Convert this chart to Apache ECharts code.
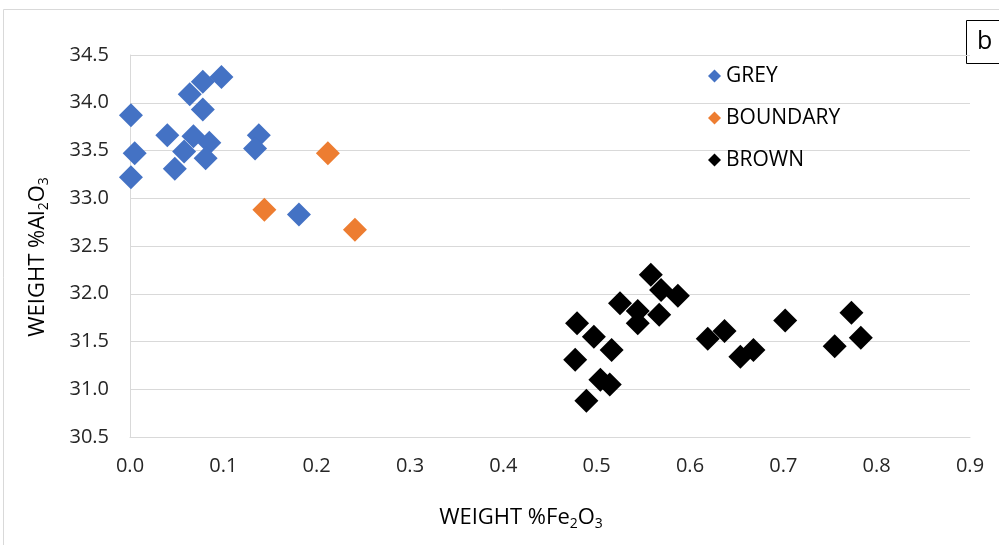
<!DOCTYPE html>
<html>
<head>
<meta charset="utf-8">
<script src="https://cdn.jsdelivr.net/npm/echarts@6/dist/echarts.min.js"></script>
<style>
  html, body { margin: 0; padding: 0; background: #fff; }
  #chart { width: 999px; height: 545px; }
</style>
</head>
<body>
<div id="chart"></div>
<script>
// values
var greyFe = [0.001, 0.005, 0.001, 0.040, 0.048, 0.068, 0.085, 0.058, 0.081, 0.064, 0.078, 0.078, 0.098, 0.138, 0.134, 0.181];
var greyAl = [33.87, 33.47, 33.22, 33.66, 33.31, 33.65, 33.58, 33.49, 33.42, 34.09, 33.93, 34.22, 34.27, 33.66, 33.52, 32.83];

var boundaryFe = [0.212, 0.144, 0.241];
var boundaryAl = [33.47, 32.88, 32.67];

var brownFe = [0.558, 0.569, 0.587, 0.525, 0.544, 0.567, 0.544, 0.479, 0.497, 0.516, 0.477,
               0.504, 0.514, 0.489, 0.619, 0.637, 0.654, 0.668, 0.702, 0.773, 0.755, 0.783];
var brownAl = [32.20, 32.04, 31.98, 31.90, 31.82, 31.78, 31.69, 31.69, 31.55, 31.41, 31.31,
               31.10, 31.05, 30.88, 31.53, 31.61, 31.34, 31.41, 31.72, 31.80, 31.45, 31.54];

var seriesNames = ['GREY', 'BOUNDARY', 'BROWN'];
var seriesColors = ['#4472C4', '#ED7D31', '#000000'];

var xTicks = [0, 0.9, 0.1];     // min, max, step
var yTicks = [30.5, 34.5, 0.5];

function pairs(xs, ys) {
    var out = [];
    for (var i = 0; i < xs.length; i++) {
        out.push([xs[i], ys[i]]);
    }
    return out;
}

var font = 'Open Sans';
var textColor = '#262626';

var subRich = {
    a: { fontFamily: font, fontSize: 22, color: '#1a1a1a' },
    s: { fontFamily: font, fontSize: 14, color: '#1a1a1a', padding: [13, 0, 0, 0] }
};

var chart = echarts.init(document.getElementById('chart'));

var allData = [pairs(greyFe, greyAl), pairs(boundaryFe, boundaryAl), pairs(brownFe, brownAl)];

var option = {
    animation: false,
    backgroundColor: '#fff',
    grid: {
        left: 130,
        right: 29,
        top: 55,
        bottom: 108
    },
    legend: {
        orient: 'vertical',
        left: 703,
        top: 59,
        itemWidth: 13,
        itemHeight: 13,
        itemGap: 18,
        icon: 'diamond',
        data: seriesNames,
        textStyle: {
            fontFamily: font,
            fontSize: 21,
            lineHeight: 24,
            color: '#000'
        }
    },
    xAxis: {
        type: 'value',
        min: xTicks[0],
        max: xTicks[1],
        interval: xTicks[2],
        axisLine: { show: true, lineStyle: { color: '#d9d9d9', width: 1 } },
        axisTick: { show: false },
        splitLine: { show: false },
        axisLabel: {
            margin: 19,
            fontFamily: font,
            fontSize: 20,
            color: textColor,
            formatter: function (v) { return v.toFixed(1); }
        }
    },
    yAxis: {
        type: 'value',
        min: yTicks[0],
        max: yTicks[1],
        interval: yTicks[2],
        axisLine: { show: true, lineStyle: { color: '#d9d9d9', width: 1 } },
        axisTick: { show: false },
        splitLine: { show: true, lineStyle: { color: '#d9d9d9', width: 1 } },
        axisLabel: {
            margin: 21,
            fontFamily: font,
            fontSize: 20,
            color: textColor,
            formatter: function (v) { return v.toFixed(1); }
        }
    },
    graphic: [
        {
            type: 'rect',
            z: -1,
            shape: { x: 3.5, y: 9.5, width: 1100, height: 600 },
            style: { fill: 'none', stroke: '#d9d9d9', lineWidth: 1 }
        },
        {
            type: 'rect',
            shape: { x: 966.5, y: 20.5, width: 60, height: 43 },
            style: { fill: '#fff', stroke: '#000', lineWidth: 1 }
        },
        {
            type: 'text',
            x: 977,
            y: 42,
            style: {
                text: 'b',
                fontFamily: font,
                fontSize: 25,
                fill: '#000',
                verticalAlign: 'middle'
            }
        },
        {
            type: 'text',
            x: 521,
            y: 518,
            style: {
                text: '{a|WEIGHT %Fe}{s|2}{a|O}{s|3}',
                rich: subRich,
                align: 'center',
                verticalAlign: 'middle'
            }
        },
        {
            type: 'text',
            x: 38,
            y: 257,
            rotation: Math.PI / 2,
            style: {
                text: '{a|WEIGHT %Al}{s|2}{a|O}{s|3}',
                rich: subRich,
                align: 'center',
                verticalAlign: 'middle'
            }
        }
    ],
    series: seriesNames.map(function (name, i) {
        return {
            name: name,
            type: 'scatter',
            symbol: 'diamond',
            symbolSize: 24,
            itemStyle: { color: seriesColors[i], opacity: 1 },
            data: allData[i]
        };
    })
};

chart.setOption(option);
</script>
</body>
</html>
